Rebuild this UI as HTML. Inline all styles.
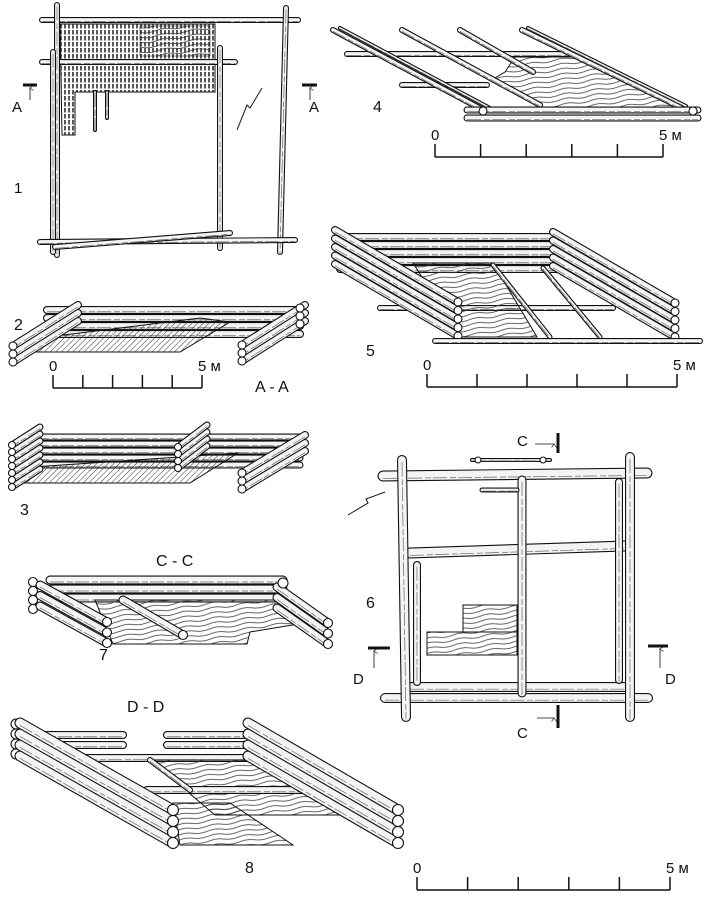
<!DOCTYPE html>
<html><head><meta charset="utf-8">
<style>
html,body{margin:0;padding:0;background:#fff;}
svg{display:block;}
text{font-family:"Liberation Sans",sans-serif;fill:#111;}
</style></head>
<body>
<svg id="s" width="709" height="901" viewBox="0 0 709 901" xmlns="http://www.w3.org/2000/svg">
<defs>
<pattern id="vh" width="4" height="6" patternUnits="userSpaceOnUse"><line x1="1" y1="0" x2="1" y2="4.5" stroke="#111" stroke-width="1.4"/></pattern>
<pattern id="dh" width="4" height="4" patternUnits="userSpaceOnUse" patternTransform="rotate(45)"><line x1="0" y1="0" x2="0" y2="4" stroke="#222" stroke-width="0.9"/></pattern>
<pattern id="wood" width="30" height="5" patternUnits="userSpaceOnUse" patternTransform="rotate(-8)"><path d="M0 2 Q8 0 15 2 T30 2" fill="none" stroke="#333" stroke-width="0.7"/></pattern>
<marker id="ar" markerWidth="6" markerHeight="6" refX="3" refY="0.5" orient="auto"><path d="M0,5 L3,0 L6,5" fill="none" stroke="#111" stroke-width="0.8"/></marker>
</defs>
<g id="g"></g>
<g font-size="15">
<text x="12" y="112">A</text><text x="309" y="112">A</text>
<text x="14" y="193">1</text>
<text x="373" y="112" font-size="16">4</text>
<text x="14" y="330" font-size="16">2</text>
<text x="255" y="392" font-size="16">A - A</text>
<text x="20" y="515" font-size="16">3</text>
<text x="366" y="356" font-size="16">5</text>
<text x="366" y="608" font-size="16">6</text>
<text x="99" y="660" font-size="16">7</text>
<text x="245" y="873" font-size="16">8</text>
<text x="156" y="566" font-size="16">C - C</text>
<text x="127" y="712" font-size="16">D - D</text>
<text x="517" y="446">C</text><text x="517" y="738">C</text>
<text x="353" y="684">D</text><text x="665" y="684">D</text>
</g>
</svg>
<script>
var o='';
function L(x1,y1,x2,y2,w){w=w||7;o+='<line x1="'+x1+'" y1="'+y1+'" x2="'+x2+'" y2="'+y2+'" stroke="#111" stroke-width="'+w+'" stroke-linecap="round"/>'+
'<line x1="'+x1+'" y1="'+y1+'" x2="'+x2+'" y2="'+y2+'" stroke="#f4f4f4" stroke-width="'+(w-2.2)+'" stroke-linecap="round"/>'+
'<line x1="'+x1+'" y1="'+(y1+w*0.22)+'" x2="'+x2+'" y2="'+(y2+w*0.22)+'" stroke="#666" stroke-width="0.7" stroke-dasharray="14 3 6 2"/>';}
function C(x,y,r){o+='<circle cx="'+x+'" cy="'+y+'" r="'+r+'" fill="#fff" stroke="#111" stroke-width="1.1"/>';}
function P(pts,f){o+='<polygon points="'+pts+'" fill="'+f+'" stroke="#111" stroke-width="1"/>';}
function ln(x1,y1,x2,y2,w,m){o+='<line x1="'+x1+'" y1="'+y1+'" x2="'+x2+'" y2="'+y2+'" stroke="#111" stroke-width="'+(w||1.2)+'"'+(m?' marker-end="url(#ar)"':'')+'/>';}
function T(x,y,s){o+='<text x="'+x+'" y="'+y+'" font-size="15">'+s+'</text>';}
function scale(x0,x1,y){ln(x0,y,x1,y,1.5);for(var i=0;i<=5;i++){var x=x0+(x1-x0)*i/5;ln(x,y,x,y-13,1.5);}T(x0-4,y-17,'0');T(x1-4,y-17,'5 м');}
function stack(sx,sy,ex,ey,n,d,w){for(var i=n-1;i>=0;i--){L(sx,sy+i*d,ex,ey+i*d,w);}for(var i=0;i<n;i++)C(ex,ey+i*d,w/2);}

/* ---- 1 ---- */
P('60,24 215,24 215,92 75,92 75,135 62,135','url(#vh)');
o+='<rect x="140" y="26" width="70" height="30" fill="url(#wood)" stroke="#333" stroke-width="0.6"/>';
L(95,92,95,130,4);L(107,92,107,118,4);
L(42,20,298,20,6);L(42,62,235,62,6);
L(57,5,57,255,6);L(53,52,53,252,6);L(220,48,220,248,6);L(286,8,280,252,6);
L(40,242,295,240,6);L(55,247,230,233,6);
ln(23,85,37,85,3);ln(30,100,30,88,0.8,1);ln(302,85,317,85,3);ln(310,100,310,88,0.8,1);
o+='<path d="M262,88 L250,108 L247,105 L237,130" fill="none" stroke="#111" stroke-width="1"/>';

/* ---- 4 ---- */
L(347,54,567,54,6);L(402,85,487,85,6);
P('515,57 585,57 675,107 543,107 495,78 505,72','url(#wood)');
L(333,30,483,110,6);L(340,28,490,108,4);L(402,30,540,105,6);L(460,30,533,72,6);L(522,30,680,107,6);L(528,28,686,106,4);
L(467,110,698,110,7);L(467,118,698,118,7);C(483,111,4);C(693,111,4);
scale(435,663,157);

/* ---- 5 ---- */
for(var i=4;i>=0;i--)L(340,237+i*8,558,237+i*8,8);
L(380,308,613,308,6);
P('413,263 493,263 537,337 460,337','url(#wood)');
L(543,268,600,337,5);L(493,265,550,337,5);
stack(335,230,458,302,5,8.5,8);
stack(553,232,675,303,5,8.5,8);
L(435,341,700,341,6);
scale(427,677,387);

/* ---- 2 ---- */
for(var i=3;i>=0;i--)L(47,310+i*8,300,310+i*8,8);
P('40,338 200,318 230,322 180,352 13,352','url(#dh)');
stack(78,305,13,346,3,8,8);
stack(305,305,242,345,3,8,8);
for(var i=0;i<3;i++)C(300,308+i*8,4);
scale(53,202,388);

/* ---- 3 ---- */
for(var i=4;i>=0;i--)L(35,437+i*7,300,437+i*7,7);
P('33,467 238,453 190,483 15,483','url(#dh)');
for(var i=6;i>=0;i--)L(40,427+i*7,12,445+i*7,7);for(var i=0;i<7;i++)C(12,445+i*7,3.5);
for(var i=3;i>=0;i--)L(207,425+i*7,178,447+i*7,7);for(var i=0;i<4;i++)C(178,447+i*7,3.5);
for(var i=2;i>=0;i--)L(305,435+i*8,242,473+i*8,8);for(var i=0;i<3;i++)C(242,473+i*8,4);

/* ---- 6 ---- */
L(383,476,647,473,11);
L(410,553,625,546,11);
L(410,687,625,687,10);L(385,698,648,698,10);
L(402,460,406,717,10);L(630,457,630,717,10);L(619,482,619,680,8);L(522,480,522,693,9);L(417,565,417,682,8);
L(482,490,517,490,5);
L(472,460,550,460,4);C(478,460,3);C(543,460,3);
P('463,605 517,605 517,655 427,655 427,632 463,632','url(#wood)');ln(427,632,517,632,1);
o+='<path d="M348,515 L368,503 L366,499 L385,492" fill="none" stroke="#111" stroke-width="1"/>';
ln(558,433,558,453,3);ln(535,444,554,444,0.8,1);ln(558,705,558,728,3);ln(537,718,554,718,0.8,1);
ln(368,648,390,648,3);ln(374,668,374,651,0.8,1);ln(648,646,668,646,3);ln(660,668,660,649,0.8,1);

/* ---- 7 ---- */
for(var i=2;i>=0;i--)L(50,580+i*9,283,580+i*9,9);
P('95,600 285,600 310,622 250,632 247,644 113,644','url(#wood)');
L(123,600,183,635,9);C(183,635,4.5);
for(var i=3;i>=0;i--)C(33,582+i*9,4.5);
stack(40,585,107,622,3,10.5,9);
stack(277,587,328,623,3,10.5,9);C(283,583,5);

/* ---- 8 ---- */
L(33,735,123,735,8);L(33,745,123,745,8);L(167,735,260,735,8);L(167,745,260,745,8);
L(83,758,260,758,8);
P('150,760 260,760 350,815 215,815','url(#wood)');
L(147,790,323,790,8);
P('173,803 230,803 293,845 180,845','url(#wood)');L(150,760,190,790,6);
for(var i=0;i<4;i++)C(16,724+i*10,5);
stack(20,723,173,810,4,11,11);
stack(248,723,398,810,4,11,11);
scale(417,670,890);
document.getElementById('g').innerHTML=o;
</script>
</body></html>
